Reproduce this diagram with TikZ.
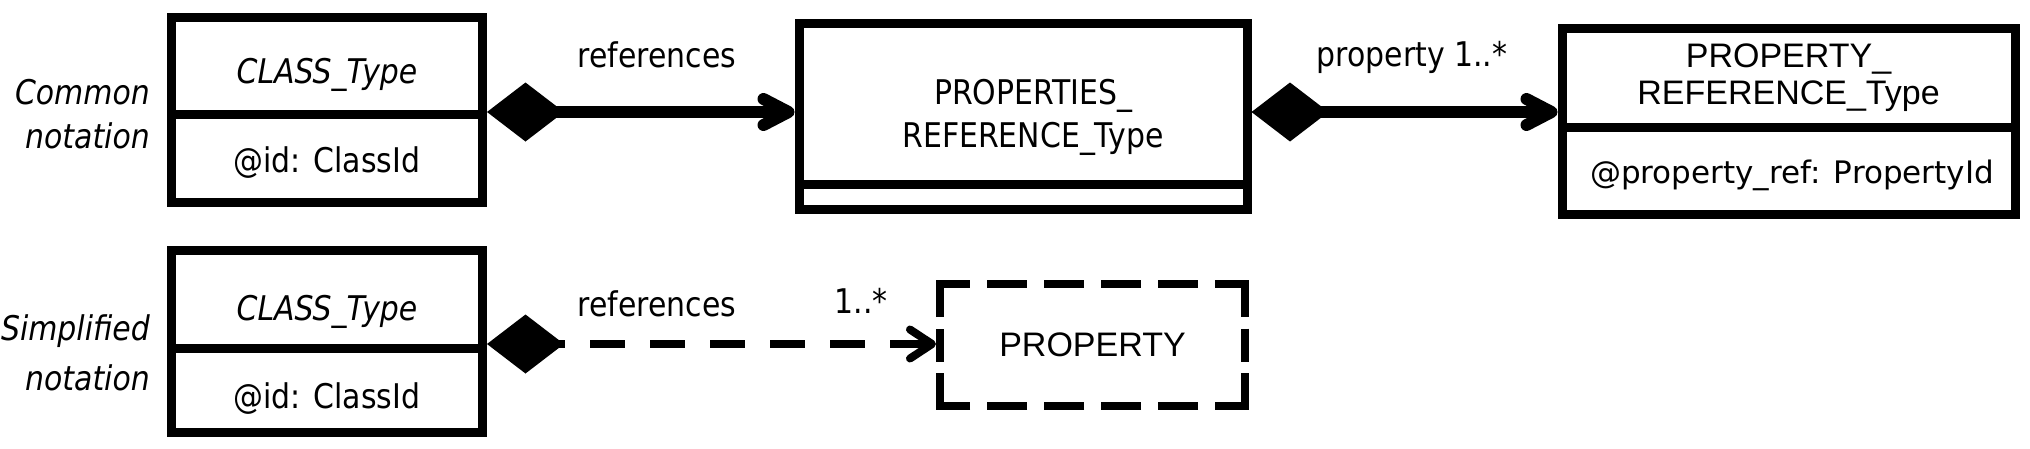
\documentclass[tikz,border=0pt]{standalone}
\usepackage{fontspec}
\newfontfamily\tah[FakeStretch=0.88]{DejaVu Sans}
\newfontfamily\dvs{DejaVu Sans}
\newfontfamily\ari{Liberation Sans}
\usetikzlibrary{arrows.meta,calc}
\begin{document}
\begin{tikzpicture}[x=1pt,y=-1pt,
  comp/.style={draw, line width=9pt, inner sep=0pt},
  txt/.style={inner sep=0pt, anchor=base, font=\tah\fontsize{34}{40}\selectfont},
  itxt/.style={txt, font=\tah\itshape\fontsize{34}{40}\selectfont},
  dtxt/.style={inner sep=0pt, anchor=base, font=\dvs\fontsize{31}{40}\selectfont},
  atxt/.style={inner sep=0pt, anchor=base, font=\ari\fontsize{34}{40}\selectfont},
  conn/.style={line width=12pt,
    {Diamond[length=77pt,width=59pt,line width=0pt]}-{Straight Barb[length=25pt,width=26pt,round]}},
  dconn/.style={line width=8pt, dash pattern=on 35pt off 25pt, dash phase=26pt,
    {Diamond[length=77pt,width=59pt,line width=0pt]}-{Straight Barb[length=22pt,width=29pt,round]}},
  dashbox/.style={line width=8pt, line join=miter,
    dash pattern=on 16.5pt off 11.5pt on 63pt off 17pt on 40pt off 17pt on 40pt off 17pt on 40pt off 17pt on 40pt off 17pt on 63pt off 11.5pt on 33pt off 11.5pt on 63pt off 17pt on 40pt off 17pt on 40pt off 17pt on 40pt off 17pt on 40pt off 17pt on 63pt off 11.5pt on 16.5pt off 10pt}
]
\useasboundingbox (0,0) rectangle (2030,448);

% row 1 boxes
\node[comp, minimum width=311pt, minimum height=96.5pt] (b1t) at (327,65.75) {};
\node[comp, minimum width=311pt, minimum height=88.5pt] (b1b) at (327,158.25) {};
\node[comp, minimum width=448pt, minimum height=160.5pt] (b2t) at (1023,103.75) {};
\node[comp, minimum width=448pt, minimum height=25pt] (b2b) at (1023,196.5) {};
\node[comp, minimum width=453pt, minimum height=98.5pt] (b3t) at (1788.5,77.75) {};
\node[comp, minimum width=453pt, minimum height=87pt] (b3b) at (1788.5,170.5) {};
% row 2 boxes
\node[comp, minimum width=311pt, minimum height=98pt] (b4t) at (327,299) {};
\node[comp, minimum width=311pt, minimum height=84.5pt] (b4b) at (327,390.25) {};
\node[inner sep=0pt, outer sep=0pt, minimum width=305pt, minimum height=122pt, font=\ari\fontsize{34}{40}\selectfont] (prop) at (1092.5,345) {PROPERTY};
\draw[dashbox] (prop.west) -- (prop.north west) -- (prop.north east) -- (prop.south east) -- (prop.south west) -- cycle;

% texts
\node[itxt, anchor=base east] (l1a) at (150,104) {Common};
\node[itxt, anchor=base east] (l1b) at (150,148) {notation};
\node[itxt, anchor=base east] (l2a) at (150,340) {Simplified};
\node[itxt, anchor=base east] (l2b) at (150,390) {notation};
\node[itxt] (t1) at (327,83) {CLASS\_Type};
\node[txt] (a1) at (327,172) {@id: ClassId};
\node[itxt] (t4) at (327,320) {CLASS\_Type};
\node[txt] (a4) at (327,408) {@id: ClassId};
\node[txt] (t2a) at (1033,104) {PROPERTIES\_};
\node[txt] (t2b) at (1033,147) {REFERENCE\_Type};
\node[atxt] (t3a) at (1788.5,67) {PROPERTY\_};
\node[atxt] (t3b) at (1788.5,104) {REFERENCE\_Type};
\node[dtxt] (a3) at (1792,183) {@property\_ref: PropertyId};
\node[txt] (r1) at (657,67) {references};
\node[txt] (r2) at (657,316) {references};
\node[txt] (p1) at (1412,66) {property 1..*};
\node[txt] (m2) at (861,313) {1..*};

% connectors
\coordinate (s1) at ($(b1t.south east)!.5!(b1b.north east)+(0,-2)$);
\draw[conn] (s1) -- (s1 -| b2t.west);
\coordinate (s2) at (b2t.east |- s1);
\draw[conn] (s2) -- (s2 -| b3t.west);
\coordinate (s3) at ($(b4t.south east)!.5!(b4b.north east)+(0,-4)$);
\draw[dconn] (s3) -- ([xshift=-4pt]s3 -| prop.west);
\end{tikzpicture}
\end{document}
